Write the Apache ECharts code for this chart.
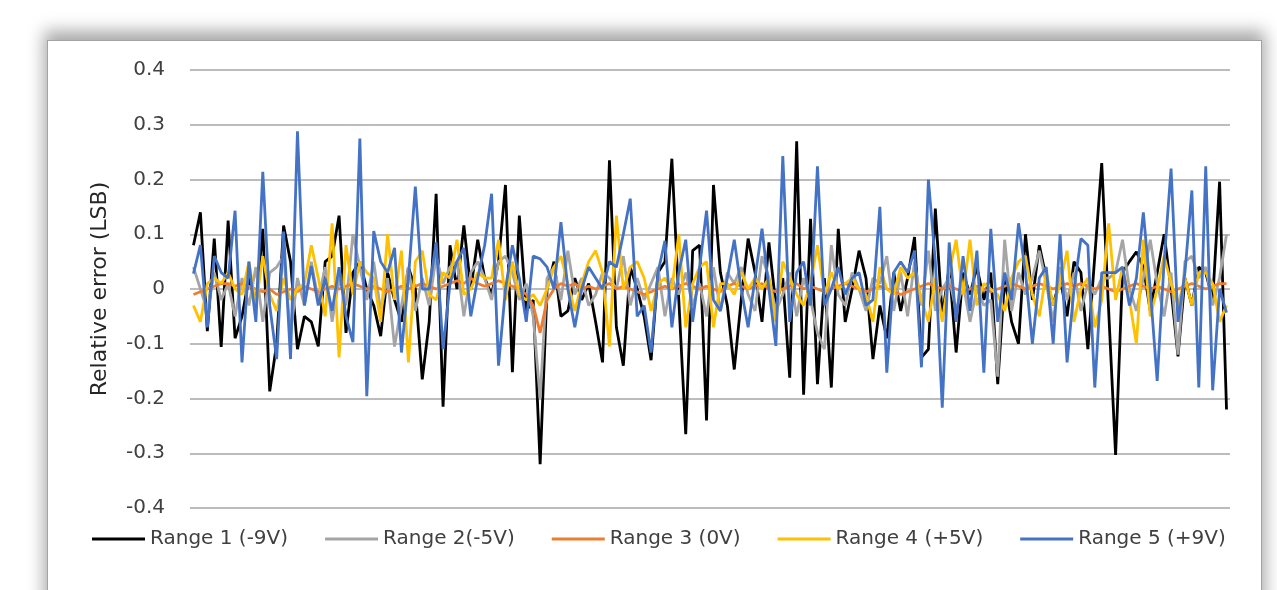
<!DOCTYPE html>
<html>
<head>
<meta charset="utf-8">
<script src="https://cdn.jsdelivr.net/npm/echarts@6/dist/echarts.min.js"></script>
<style>
html,body{margin:0;padding:0;background:#fff;width:1277px;height:590px;overflow:hidden;}
#frame{position:absolute;left:47px;top:40px;width:1213px;height:600px;border:1px solid #a3a3a3;background:#fff;
  box-shadow:0 -6px 16px 3px rgba(0,0,0,0.35);}
#chart{position:absolute;left:0;top:0;width:1277px;height:590px;}
</style>
</head>
<body>
<div id="frame"></div>
<div id="chart"></div>
<script>
const seriesNames = ['Range 1 (-9V)', 'Range 2(-5V)', 'Range 3 (0V)', 'Range 4 (+5V)', 'Range 5 (+9V)'];
const yTicks = [-0.4, -0.3, -0.2, -0.1, 0, 0.1, 0.2, 0.3, 0.4];

const range1 = [
 0.08, 0.14, -0.077, 0.092, -0.106, 0.125, -0.09, -0.05, 0.02, -0.03,
 0.11, -0.187, -0.1, 0.116, 0.05, -0.11, -0.05, -0.06, -0.105, 0.05,
 0.06, 0.134, -0.08, 0.03, 0.05, 0.0, -0.03, -0.086, 0.03, -0.02,
 -0.06, 0.04, 0.0, -0.165, -0.06, 0.174, -0.215, 0.08, 0.0, 0.116,
 0.0, 0.09, 0.02, -0.01, 0.05, 0.19, -0.152, 0.134, -0.04, -0.02,
 -0.32, 0.0, 0.05, -0.05, -0.04, 0.02, -0.02, 0.01, -0.06, -0.134,
 0.235, -0.07, -0.14, 0.04, 0.0, -0.05, -0.13, 0.03, 0.05, 0.238,
 -0.02, -0.265, 0.07, 0.08, -0.24, 0.19, 0.03, -0.03, -0.147, -0.02,
 0.092, 0.03, -0.06, 0.085, -0.03, 0.02, -0.162, 0.27, -0.193, 0.128,
 -0.174, 0.02, -0.18, 0.11, -0.06, 0.0, 0.07, 0.02, -0.128, -0.03,
 -0.09, 0.03, -0.04, 0.02, 0.095, -0.125, -0.11, 0.147, -0.05, 0.04,
 -0.116, 0.03, -0.01, 0.04, -0.02, 0.03, -0.174, 0.02, -0.06, -0.1,
 0.1, -0.02, 0.08, 0.02, -0.03, 0.02, -0.05, 0.05, 0.03, -0.11,
 0.06, 0.23, -0.04, -0.303, 0.03, 0.05, 0.068, 0.04, -0.04, 0.03,
 0.1, 0.0, -0.123, 0.02, -0.03, 0.04, 0.03, -0.02, 0.196, -0.22
];
const range2 = [
 0.04, 0.0, -0.04, 0.03, -0.02, 0.01, -0.05, 0.02, -0.03, 0.04,
 -0.06, 0.03, 0.04, 0.06, -0.08, 0.02, -0.03, 0.05, -0.02, 0.04,
 -0.06, 0.02, -0.03, 0.1, 0.04, -0.02, 0.05, -0.04, 0.02, -0.105,
 -0.03, 0.04, -0.04, 0.02, -0.03, 0.06, 0.01, 0.04, 0.05, -0.05,
 0.03, 0.05, 0.02, -0.02, 0.05, 0.06, 0.03, -0.02, 0.01, -0.05,
 -0.2, 0.02, 0.04, -0.02, 0.07, -0.01, 0.02, -0.03, -0.01, 0.03,
 0.02, 0.0, 0.06, -0.03, 0.02, -0.02, 0.01, 0.04, -0.05, 0.02,
 -0.01, 0.03, -0.03, 0.01, -0.05, 0.04, -0.04, 0.03, 0.01, 0.04,
 -0.01, -0.04, 0.06, 0.02, -0.04, -0.01, 0.03, -0.05, 0.02, -0.02,
 -0.08, -0.11, 0.08, -0.01, -0.03, 0.03, 0.0, -0.04, 0.02, 0.01,
 0.06, -0.04, 0.03, -0.05, 0.05, -0.03, 0.07, -0.04, 0.0, 0.02,
 -0.04, 0.01, -0.06, 0.0, -0.03, -0.02, -0.16, 0.09, -0.04, 0.03,
 -0.01, 0.02, 0.07, 0.01, -0.06, 0.04, -0.02, 0.03, -0.04, 0.01,
 -0.01, 0.02, 0.02, 0.03, 0.09, 0.0, -0.04, 0.02, 0.09, 0.01,
 -0.05, 0.03, -0.12, 0.05, 0.06, 0.02, 0.04, -0.03, 0.02, 0.1
];
const range3 = [
 -0.01, -0.005, 0, 0.005, 0.01, 0.01, 0.005, 0.01, 0.005, 0,
 -0.005, 0, -0.01, -0.005, 0, -0.005, 0.005, 0, -0.005, 0,
 0.005, 0, 0.005, 0.01, 0.005, 0, 0.005, 0, -0.005, 0,
 0.005, 0, 0.005, 0.01, 0.005, 0, 0.005, 0.01, 0.015, 0.01,
 0.02, 0.01, 0.005, 0.01, 0.015, 0.01, 0.005, 0, -0.01, -0.03,
 -0.08, -0.02, 0, 0.01, 0.005, 0.01, 0, 0.005, 0, 0.005,
 0.01, 0, 0.005, 0, -0.005, -0.01, -0.005, 0, 0.005, 0,
 0.005, 0.01, 0.005, 0, 0.005, 0, -0.005, 0.005, 0.01, 0.005,
 0, 0.005, 0.01, 0, -0.005, 0, 0.005, 0.01, 0, 0.005,
 0, -0.005, 0, 0.005, 0.01, 0.005, 0, -0.005, 0, 0.005,
 0, -0.005, -0.01, -0.005, 0, 0.005, 0.01, 0.005, 0, 0.005,
 0, -0.005, 0, 0.005, 0, -0.005, 0, 0.005, 0.01, 0.005,
 0, 0.005, 0.01, 0.005, 0, 0.005, 0.01, 0.005, 0.01, 0.005,
 0, 0.005, 0, -0.005, 0, 0.005, 0.01, 0.005, 0, 0.005,
 0, -0.005, 0, 0.005, 0.01, 0.005, 0, 0.005, 0.01, 0.01
];
const range4 = [
 -0.03, -0.06, 0.01, 0.02, 0.01, 0.03, 0.0, -0.01, 0.05, -0.03,
 0.06, -0.01, -0.04, 0.02, -0.02, 0.0, 0.01, 0.08, 0.02, -0.05,
 0.12, -0.125, 0.08, -0.01, 0.05, 0.03, 0.02, -0.06, 0.1, -0.02,
 0.07, -0.134, 0.05, 0.07, -0.01, -0.02, 0.03, 0.02, 0.09, -0.01,
 0.0, 0.03, 0.02, 0.02, 0.09, -0.02, 0.05, -0.01, -0.02, -0.01,
 -0.03, 0.0, 0.04, 0.06, 0.01, -0.04, 0.01, 0.05, 0.07, 0.03,
 -0.105, 0.134, 0.0, 0.04, 0.05, 0.02, -0.04, 0.01, 0.02, 0.0,
 0.1, -0.07, 0.01, 0.04, 0.05, -0.07, 0.01, 0.01, -0.01, 0.03,
 0.0, 0.02, 0.0, 0.02, -0.06, 0.05, 0.02, -0.01, -0.03, 0.01,
 0.08, -0.01, 0.03, 0.0, 0.01, 0.02, 0.0, -0.01, -0.06, 0.04,
 0.0, -0.01, 0.04, 0.02, 0.03, -0.02, -0.06, 0.02, -0.06, 0.03,
 0.09, -0.01, 0.09, -0.03, 0.01, 0.0, -0.01, -0.04, 0.02, 0.05,
 0.06, -0.01, -0.05, 0.03, -0.03, 0.01, 0.07, -0.06, 0.0, 0.02,
 -0.07, -0.02, 0.12, -0.02, 0.04, -0.02, -0.1, 0.09, -0.05, 0.0,
 0.06, 0.01, -0.03, 0.02, -0.03, 0.03, 0.03, 0.01, -0.06, -0.03
];
const range5 = [
 0.028, 0.08, -0.07, 0.06, 0.03, 0.02, 0.143, -0.134, 0.05, -0.06,
 0.214, -0.03, -0.128, 0.105, -0.128, 0.288, -0.03, 0.042, -0.03, 0.02,
 -0.04, 0.04, -0.05, -0.097, 0.275, -0.196, 0.106, 0.05, 0.03, 0.075,
 -0.116, 0.02, 0.187, 0.0, 0.0, 0.085, -0.11, 0.01, 0.05, 0.075,
 -0.05, 0.02, 0.08, 0.174, -0.14, 0.0, 0.08, 0.02, -0.06, 0.06,
 0.055, 0.04, 0.0, 0.122, 0.0, -0.07, 0.0, 0.04, 0.02, 0.0,
 0.05, 0.04, 0.1, 0.165, -0.05, -0.03, -0.116, 0.03, 0.088, -0.07,
 0.03, 0.09, -0.06, 0.04, 0.143, -0.02, -0.04, 0.02, 0.09, 0.0,
 -0.07, 0.02, 0.11, 0.0, -0.104, 0.243, -0.06, 0.03, 0.05, -0.03,
 0.224, -0.03, 0.0, 0.04, -0.01, 0.02, 0.03, -0.03, -0.02, 0.15,
 -0.153, 0.03, 0.05, 0.03, 0.07, -0.143, 0.2, 0.05, -0.217, 0.085,
 -0.06, 0.06, -0.04, 0.07, -0.153, 0.11, -0.06, 0.03, -0.02, 0.12,
 0.03, -0.1, 0.02, 0.04, -0.1, 0.1, -0.134, 0.0, 0.092, 0.08,
 -0.18, 0.03, 0.03, 0.03, 0.04, -0.03, 0.02, 0.14, 0.0, -0.168,
 0.05, 0.22, -0.06, 0.03, 0.18, -0.18, 0.224, -0.185, 0.0, -0.043
];
const categories = range1.map((_, i) => String(i + 1));
const colors = ['#000000', '#A5A5A5', '#ED7D31', '#FFC000', '#4472C4'];
const allData = [range1, range2, range3, range4, range5];

const FONT = 'DejaVu Sans';
const chart = echarts.init(document.getElementById('chart'), null, {renderer: 'canvas'});
chart.setOption({
  animation: false,
  backgroundColor: 'transparent',
  grid: {left: 190, right: 47, top: 70, bottom: 82},
  legend: {
    data: seriesNames,
    left: 92, top: 529,
    icon: 'rect', itemWidth: 53, itemHeight: 3, itemGap: 37, padding: 0,
    textStyle: {fontFamily: FONT, fontSize: 20, color: '#404040'}
  },
  xAxis: {
    type: 'category', data: categories, boundaryGap: true,
    axisLine: {show: false}, axisTick: {show: false}, axisLabel: {show: false}, splitLine: {show: false}
  },
  yAxis: {
    type: 'value', min: yTicks[0], max: yTicks[yTicks.length - 1], interval: 0.1,
    axisLine: {show: false}, axisTick: {show: false},
    axisLabel: {fontFamily: FONT, fontSize: 20, color: '#404040', margin: 25,
      formatter: v => String(+v.toFixed(1))},
    splitLine: {lineStyle: {color: '#A6A6A6', width: 1.5}},
    name: 'Relative error (LSB)', nameLocation: 'middle', nameGap: 79,
    nameTextStyle: {fontFamily: FONT, fontSize: 22, color: '#262626'}
  },
  series: seriesNames.map((n, k) => ({
    name: n, type: 'line', data: allData[k], symbol: 'none', showSymbol: false,
    color: colors[k], lineStyle: {width: 2.8, color: colors[k]}
  }))
});
</script>
</body>
</html>
